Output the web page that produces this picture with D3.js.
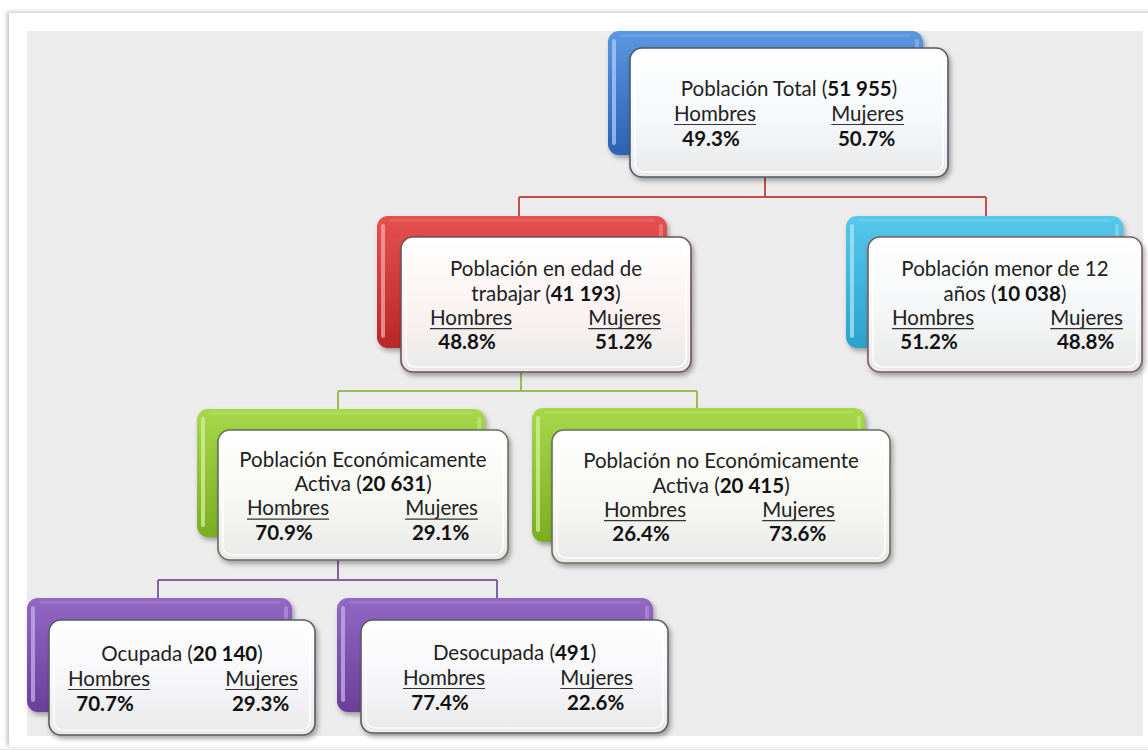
<!DOCTYPE html>
<html>
<head>
<meta charset="utf-8">
<script src="https://cdn.jsdelivr.net/npm/d3@7"></script>
<style>
  html, body { margin: 0; padding: 0; background: #fff; }
  svg { display: block; }
</style>
</head>
<body>
<svg id="chart" width="1148" height="751"></svg>
<script>
// --- Data ---
const titleLines = [
  ["Población Total"],
  ["Población en edad de", "trabajar"],
  ["Población menor de 12", "años"],
  ["Población Económicamente", "Activa"],
  ["Población no Económicamente", "Activa"],
  ["Ocupada"],
  ["Desocupada"],
];
const totals = [51955, 41193, 10038, 20631, 20415, 20140, 491];
const hombresPct = [49.3, 48.8, 51.2, 70.9, 26.4, 70.7, 77.4];
const mujeresPct = [50.7, 51.2, 48.8, 29.1, 73.6, 29.3, 22.6];
const parentOf = [null, 0, 0, 1, 1, 3, 3];
const labelH = "Hombres";
const labelM = "Mujeres";

// --- Layout (back box, front box, label insets) ---
const layout = [
  { back: [608, 31, 923, 155], front: [630, 48, 948, 177], hIn: 44, mIn: 44, color: "blue" },
  { back: [377, 216, 667, 348], front: [401, 237, 691, 372], hIn: 29, mIn: 30, color: "red" },
  { back: [846, 216, 1123, 348], front: [868, 237, 1142, 372], hIn: 24, mIn: 19, color: "cyan" },
  { back: [197, 409, 485, 537], front: [218, 430, 508, 560], hIn: 29, mIn: 30, color: "green" },
  { back: [532, 408, 865, 542], front: [552, 430, 890, 563], hIn: 52, mIn: 55, color: "green" },
  { back: [27, 598, 292, 712], front: [49, 620, 315, 735], hIn: 19, mIn: 17, color: "purple" },
  { back: [337, 598, 653, 712], front: [361, 620, 668, 733], hIn: 42, mIn: 35, color: "purple" },
];
// connector groups: parent -> children, y of horizontal bar, line colour
const connectors = [
  { parent: 0, kids: [1, 2], barY: 197, stroke: "#c0504d", px: 765, xs: [519, 986] },
  { parent: 1, kids: [3, 4], barY: 391, stroke: "#9bbb59", px: 521, xs: [338, 697] },
  { parent: 3, kids: [5, 6], barY: 580, stroke: "#8064a2", px: 338, xs: [158, 497] },
];

const palette = {
  blue:   { top: "#5b97e0", bot: "#2c62b4", hi: "#a9cbf5", tint: "#f6f8fb", edge: "#4d5966" },
  red:    { top: "#e65050", bot: "#b82828", hi: "#f3a5a5", tint: "#fbf2f2", edge: "#6e5555" },
  cyan:   { top: "#55c8ea", bot: "#2aa2cc", hi: "#a8e4f5", tint: "#f5f6f7", edge: "#7a5c5c" },
  green:  { top: "#a7d84a", bot: "#7aae22", hi: "#d3ef9e", tint: "#f7f8f3", edge: "#66705a" },
  purple: { top: "#9268c4", bot: "#6a3f9a", hi: "#c6aee6", tint: "#f6f5f8", edge: "#5a5a66" },
};

const fmt = d3.formatLocale({ decimal: ".", thousands: " ", grouping: [3], currency: ["", ""] }).format(",d");

const svg = d3.select("#chart");
const defs = svg.append("defs");

const shadow = defs.append("filter").attr("id", "shadow")
  .attr("x", "-10%").attr("y", "-10%").attr("width", "130%").attr("height", "140%");
shadow.append("feDropShadow").attr("dx", 2).attr("dy", 3).attr("stdDeviation", 2.5)
  .attr("flood-color", "#000").attr("flood-opacity", 0.35);

const pageShadow = defs.append("filter").attr("id", "pageShadow")
  .attr("x", "-5%").attr("y", "-5%").attr("width", "110%").attr("height", "110%");
pageShadow.append("feDropShadow").attr("dx", -2).attr("dy", -1).attr("stdDeviation", 2)
  .attr("flood-color", "#000").attr("flood-opacity", 0.25);

Object.entries(palette).forEach(([k, p]) => {
  const g = defs.append("linearGradient").attr("id", "back-" + k)
    .attr("x1", 0).attr("y1", 0).attr("x2", 0).attr("y2", 1);
  g.append("stop").attr("offset", "0%").attr("stop-color", p.top);
  g.append("stop").attr("offset", "100%").attr("stop-color", p.bot);
  const f = defs.append("linearGradient").attr("id", "front-" + k)
    .attr("x1", 0).attr("y1", 0).attr("x2", 0).attr("y2", 1);
  f.append("stop").attr("offset", "0%").attr("stop-color", "#ffffff");
  f.append("stop").attr("offset", "55%").attr("stop-color", p.tint);
  f.append("stop").attr("offset", "100%").attr("stop-color", "#e9e9e9");
});

// page + grey panel
svg.append("rect").attr("x", 9).attr("y", 13).attr("width", 1160).attr("height", 734)
  .attr("fill", "#fff").attr("filter", "url(#pageShadow)");
svg.append("rect").attr("x", 27).attr("y", 31).attr("width", 1116).attr("height", 705)
  .attr("fill", "#ececec");
svg.append("line").attr("x1", 0).attr("x2", 1148).attr("y1", 749.5).attr("y2", 749.5)
  .attr("stroke", "#e6e6e6").attr("stroke-width", 1);

// connectors
const conn = svg.append("g").attr("fill", "none").attr("stroke-width", 2);
connectors.forEach((c) => {
  const pFront = layout[c.parent].front;
  conn.append("path")
    .attr("stroke", c.stroke)
    .attr("d", `M${c.px},${pFront[3]}V${c.barY}`
      + `M${c.xs[0]},${c.barY}H${c.xs[1]}`
      + c.kids.map((k, i) => `M${c.xs[i]},${c.barY}V${layout[k].back[1] + 2}`).join(""));
});

// nodes
const nodes = titleLines.map((t, i) => ({
  lines: t, total: totals[i], h: hombresPct[i], m: mujeresPct[i], parent: parentOf[i], ...layout[i],
}));

const FONT = "Lato, 'Open Sans', sans-serif";
const FS = 20.5;

const node = svg.selectAll("g.node").data(nodes).join("g").attr("class", "node");

node.each(function (d) {
  const g = d3.select(this);
  const p = palette[d.color];
  const [bx0, by0, bx1, by1] = d.back;
  const [fx0, fy0, fx1, fy1] = d.front;

  g.append("rect").attr("x", bx0).attr("y", by0).attr("width", bx1 - bx0).attr("height", by1 - by0)
    .attr("rx", 11).attr("fill", `url(#back-${d.color})`).attr("filter", "url(#shadow)");
  // glossy highlights on the back shape
  g.append("rect").attr("x", bx0 + 4).attr("y", by0 + 8).attr("width", 4).attr("height", by1 - by0 - 18)
    .attr("rx", 2).attr("fill", p.hi).attr("opacity", 0.75);
  g.append("rect").attr("x", bx0 + 12).attr("y", by0 + 3).attr("width", bx1 - bx0 - 24).attr("height", 3)
    .attr("rx", 1.5).attr("fill", p.hi).attr("opacity", 0.2);
  g.append("rect").attr("x", bx1 - 8).attr("y", by0 + 8).attr("width", 4).attr("height", by1 - by0 - 18)
    .attr("rx", 2).attr("fill", p.hi).attr("opacity", 0.45);

  g.append("rect").attr("x", fx0).attr("y", fy0).attr("width", fx1 - fx0).attr("height", fy1 - fy0)
    .attr("rx", 12).attr("fill", `url(#front-${d.color})`)
    .attr("stroke", p.edge).attr("stroke-width", 1.6).attr("filter", "url(#shadow)");
  g.append("rect").attr("x", fx0 + 5).attr("y", fy0 + 5).attr("width", fx1 - fx0 - 10).attr("height", fy1 - fy0 - 10)
    .attr("rx", 9).attr("fill", "none").attr("stroke", "#fff").attr("stroke-width", 1.5).attr("opacity", 0.9);

  const nLines = d.lines.length + 2;
  const lh = nLines > 3 ? 24.3 : 25;
  const cy = (fy0 + fy1) / 2 + 1;
  const firstY = cy - (lh * (nLines - 1)) / 2;
  const cx = (fx0 + fx1) / 2;

  d.lines.forEach((ln, i) => {
    const t = g.append("text").attr("x", cx).attr("y", firstY + i * lh).attr("dy", "0.35em")
      .attr("text-anchor", "middle").attr("font-family", FONT).attr("font-size", FS).attr("fill", "#222");
    if (i === d.lines.length - 1) {
      t.append("tspan").text(ln + " (");
      t.append("tspan").attr("font-weight", "bold").attr("fill", "#111").text(fmt(d.total));
      t.append("tspan").text(")");
    } else {
      t.append("tspan").text(ln);
    }
  });

  const yLab = firstY + d.lines.length * lh;
  const yPct = yLab + lh;
  const hx = fx0 + d.hIn;
  const mx = fx1 - d.mIn;

  const th = g.append("text").attr("x", hx).attr("y", yLab).attr("dy", "0.35em")
    .attr("font-family", FONT).attr("font-size", FS).attr("fill", "#222").text(labelH);
  const tm = g.append("text").attr("x", mx).attr("y", yLab).attr("dy", "0.35em").attr("text-anchor", "end")
    .attr("font-family", FONT).attr("font-size", FS).attr("fill", "#222").text(labelM);
  const wh = th.node().getComputedTextLength();
  const wm = tm.node().getComputedTextLength();
  g.append("line").attr("x1", hx).attr("x2", hx + wh).attr("y1", yLab + 11).attr("y2", yLab + 11)
    .attr("stroke", "#333").attr("stroke-width", 1.2);
  g.append("line").attr("x1", mx - wm).attr("x2", mx).attr("y1", yLab + 11).attr("y2", yLab + 11)
    .attr("stroke", "#333").attr("stroke-width", 1.2);

  g.append("text").attr("x", hx + wh / 2 - 4).attr("y", yPct).attr("dy", "0.35em").attr("text-anchor", "middle")
    .attr("font-family", FONT).attr("font-size", FS).attr("font-weight", "bold").attr("fill", "#111")
    .text(d.h.toFixed(1) + "%");
  g.append("text").attr("x", mx - wm / 2 - 1).attr("y", yPct).attr("dy", "0.35em").attr("text-anchor", "middle")
    .attr("font-family", FONT).attr("font-size", FS).attr("font-weight", "bold").attr("fill", "#111")
    .text(d.m.toFixed(1) + "%");
});
</script>
</body>
</html>
